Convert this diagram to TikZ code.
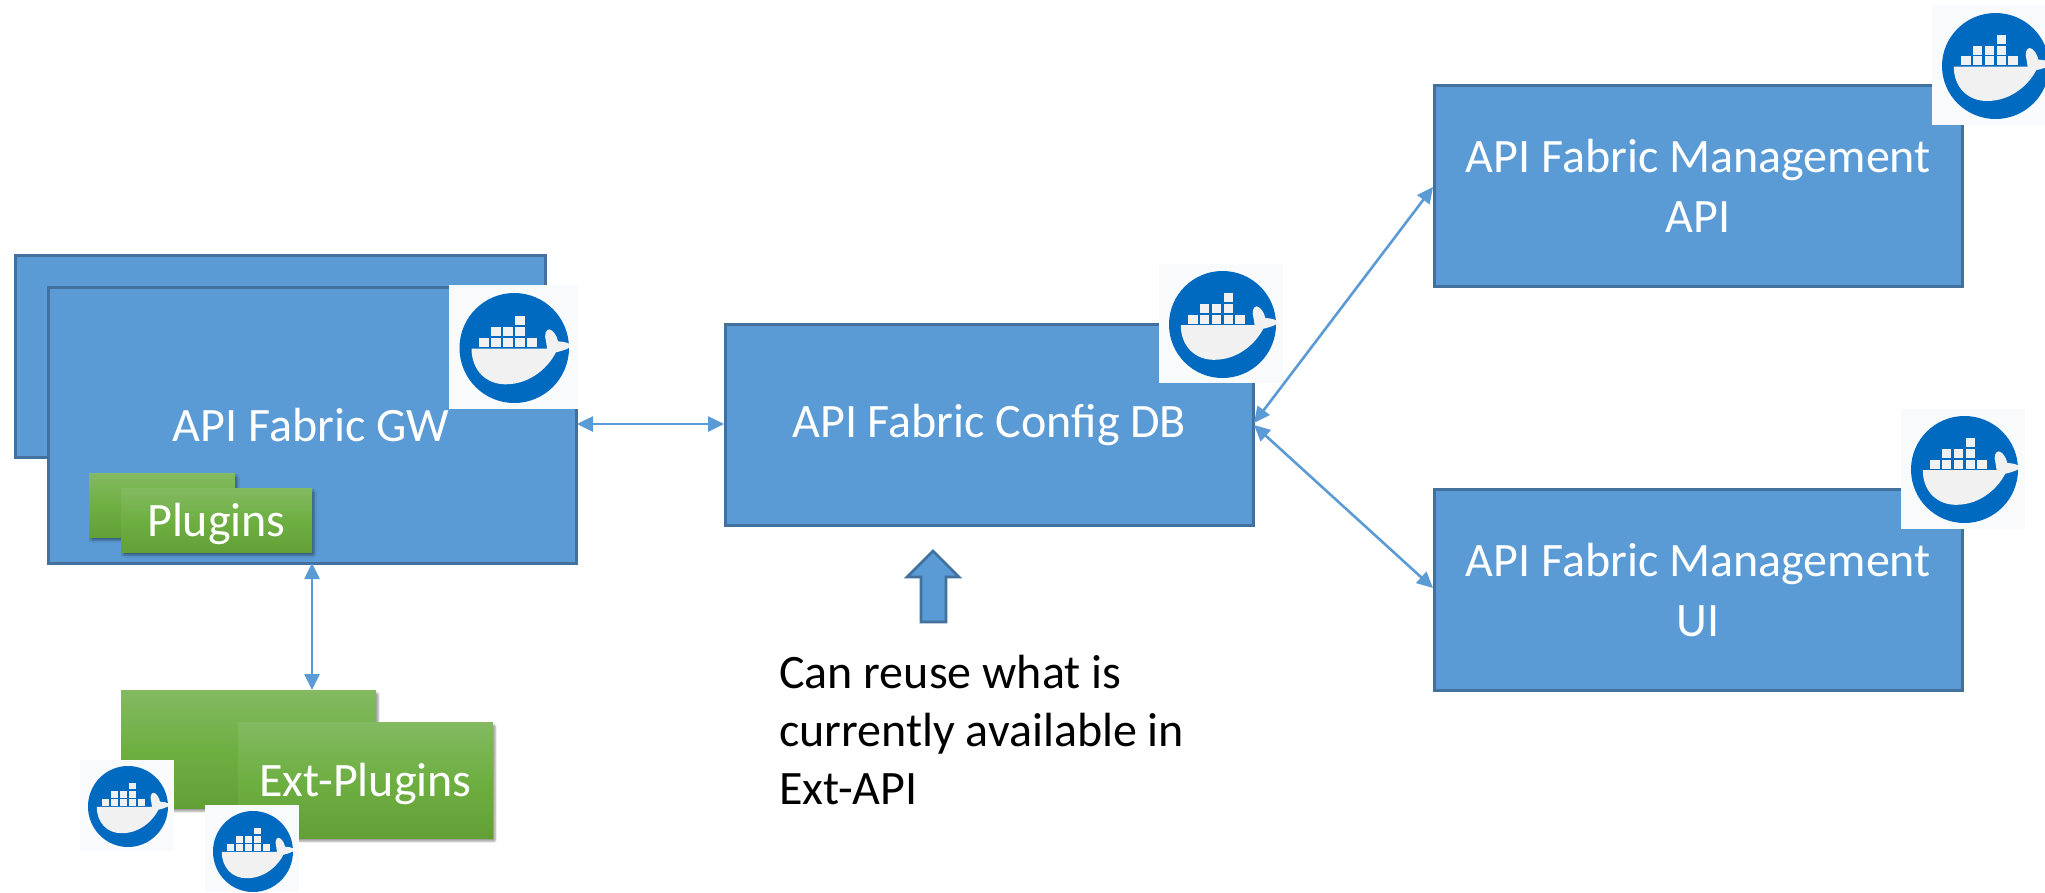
\documentclass[tikz,border=0pt]{standalone}
\usepackage{fontspec}
\setmainfont{Carlito}
\usetikzlibrary{arrows.meta,shadows.blur,fadings}
\definecolor{boxblue}{HTML}{5B9BD5}
\definecolor{boxedge}{HTML}{41719C}
\definecolor{dockblue}{HTML}{0069C0}
\definecolor{dockbg}{HTML}{F8FAFC}
\definecolor{dockwhale}{HTML}{F1F1F1}
\definecolor{greentop}{HTML}{83BA62}
\definecolor{greenmid}{HTML}{6EAF42}
\definecolor{greenbot}{HTML}{62A035}
\tikzset{
  x=1pt,y=-1pt,
  bluebox/.style={draw=boxedge,line width=2.6pt,fill=boxblue},
  greenbox/.style={top color=greentop,bottom color=greenbot,middle color=greenmid,
     blur shadow={shadow xshift=2pt,shadow yshift=-3pt,shadow blur steps=6,shadow blur extra rounding=1pt}},
  link/.style={draw=boxblue,line width=2.6pt,{Triangle[length=16pt,width=15pt]}-{Triangle[length=16pt,width=15pt]}},
  whitelabel/.style={text=white,font=\fontsize{48}{60}\selectfont,align=center},
  blacklabel/.style={text=black,font=\fontsize{48}{58}\selectfont,align=left,anchor=north west,inner sep=0pt},
  dockicon/.style={fill=dockbg},
  cell/.style={fill=dockwhale}
}
% #1 left, #2 top, #3 width, #4 height of the square; #5..#8 circle left top width height
\newcommand{\dockericon}[8]{%
  \fill[dockicon] (#1,#2) rectangle ++(#3,#4);
  \begin{scope}[shift={(#5,#6)},xscale=#7/100,yscale=#8/100]
    \fill[dockblue] (50,50) ellipse [x radius=50,y radius=50];
    \begin{scope}
      \clip (50,50) ellipse [x radius=50,y radius=50];
      \fill[dockwhale] (11,50.5) -- (80,50.5) -- (79,44) .. controls (77,38) and (79,33) .. (82,33)
        .. controls (86,34) and (89,39) .. (90,44) .. controls (94,44) and (98,45) .. (100,46)
        -- (100,50) .. controls (96,52) and (92,53) .. (88,54)
        .. controls (82,66) and (66,83) .. (42,83)
        .. controls (24,83) and (11,70) .. (11,50.5) -- cycle;
    \end{scope}
    \foreach \cx in {18,29,40,51,62}{\fill[cell] (\cx,41) rectangle ++(8.8,8.4);}
    \foreach \cx in {29,40,51}{\fill[cell] (\cx,31) rectangle ++(8.8,8.4);}
    \fill[cell] (51,20.6) rectangle ++(8.8,8.2);
  \end{scope}
}
\begin{document}
\begin{tikzpicture}
\useasboundingbox (0,0) rectangle (2045,892);
% gateway stack
\node[bluebox,anchor=north west,minimum width=530pt,minimum height=202pt,inner sep=0pt] (gwback) at (14,254) {};
\node[bluebox,anchor=north west,minimum width=528pt,minimum height=276pt,inner sep=0pt] (gw) at (47,286) {};
\node[whitelabel] (gwlabel) at (311,425) {API Fabric GW};
\node[greenbox,anchor=north west,minimum width=146pt,minimum height=64pt,inner sep=0pt] (plugback) at (89,473) {};
\node[greenbox,anchor=north west,minimum width=191pt,minimum height=64pt,inner sep=0pt] (plug) at (121,488) {};
\node[whitelabel] (pluglabel) at (216.5,524) {Plugins};
\dockericon{449}{285}{129}{124}{459.5}{293}{109.5}{110}
% config
\node[bluebox,anchor=north west,minimum width=528pt,minimum height=201pt,inner sep=0pt,whitelabel] (cfg) at (724,323) {API Fabric Config DB};
\dockericon{1159}{264}{124}{119}{1169}{271}{107}{107}
% management
\node[bluebox,anchor=north west,minimum width=528pt,minimum height=201pt,inner sep=0pt,whitelabel] (mapi) at (1433,84) {API Fabric Management\\API};
\node[bluebox,anchor=north west,minimum width=528pt,minimum height=201pt,inner sep=0pt,whitelabel] (mui) at (1433,488) {API Fabric Management\\UI};
\dockericon{1932}{5}{113}{120}{1942}{13}{107}{106}
\dockericon{1901}{409}{124}{120}{1911}{416}{107}{107}
% ext plugins
\node[greenbox,anchor=north west,minimum width=255pt,minimum height=118pt,inner sep=0pt] (extback) at (121,690) {};
\node[greenbox,anchor=north west,minimum width=255pt,minimum height=116pt,inner sep=0pt] (ext) at (238,722) {};
\node[whitelabel] (extlabel) at (365.5,784) {Ext-Plugins};
\dockericon{80}{760}{94}{91}{88}{766}{80}{81}
\dockericon{205}{805}{94}{87}{213}{811}{80}{81}
% connectors
\coordinate (gwr) at (577,424);
\coordinate (cfgl) at (724,424);
\coordinate (cfgra) at (1254,423);
\coordinate (cfgrb) at (1254,425);
\coordinate (mapil) at (1433,187);
\coordinate (muil) at (1433,588);
\coordinate (gwb) at (312,563);
\coordinate (extt) at (312,690);
\draw[link] (gwr) -- (cfgl);
\draw[link] (cfgra) -- (mapil);
\draw[link] (cfgrb) -- (muil);
\draw[link] (gwb) -- (extt);
% up arrow
\draw[bluebox,line join=miter] (933,551) -- (959,577) -- (946,577) -- (946,622) -- (921,622) -- (921,577) -- (907,577) -- cycle;
\node[blacklabel] (note) at (779,655) {Can reuse what is\\currently available in\\Ext-API};
\end{tikzpicture}
\end{document}
